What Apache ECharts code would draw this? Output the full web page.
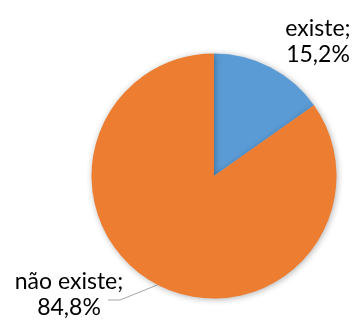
<!DOCTYPE html>
<html>
<head>
<meta charset="utf-8">
<script src="https://cdn.jsdelivr.net/npm/echarts@6/dist/echarts.min.js"></script>
<style>
  html, body { margin: 0; padding: 0; background: #ffffff; }
  #chart { width: 355px; height: 327px; }
</style>
</head>
<body>
<div id="chart"></div>
<script>
// Share of cases where the item exists vs. does not exist (percent)
const categories = ['existe', 'não existe'];
const shares = [15.2, 84.8];
const colors = ['#5B9BD5', '#ED7D31'];

// Centre of each slice's two-line label block
const labelSpots = [
  { x: 318, y: 42 },
  { x: 69, y: 295 }
];
const lineGap = 26;
// Where the leader line meets its label, relative to the label centre
const leaderEnd = { dx: 39, dy: 5, run: 12 };

const fmtPct = v => v.toFixed(1).replace('.', ',') + '%';

const pieBase = {
  type: 'pie',
  center: [214, 176],
  radius: 122.5,
  startAngle: 90,
  clockwise: true,
  emphasis: { disabled: true }
};

const textStyle = {
  show: true,
  position: 'outside',
  alignTo: 'none',
  overflow: 'none',
  fontFamily: 'Lato',
  fontSize: 23,
  lineHeight: lineGap,
  color: '#000000'
};

// Each label line is its own single-line label so both stay centred.
const placeLine = offset => p => {
  const s = labelSpots[p.dataIndex];
  const out = { x: s.x, y: s.y + offset, align: 'center', verticalAlign: 'middle' };
  if (p.labelLinePoints && p.labelLinePoints.length) {
    const anchor = p.labelLinePoints[0];
    const end = [s.x + leaderEnd.dx, s.y + leaderEnd.dy];
    out.labelLinePoints = [anchor, [end[0] + leaderEnd.run, end[1]], end];
  }
  return out;
};

const chart = echarts.init(document.getElementById('chart'), null, { renderer: 'canvas' });

chart.setOption({
  animation: false,
  series: [
    Object.assign({}, pieBase, {
      data: categories.map((name, i) => ({
        name,
        value: shares[i],
        itemStyle: { color: colors[i] },
        labelLine: { show: i === 1 }
      })),
      itemStyle: {
        borderWidth: 0,
        shadowBlur: 6,
        shadowColor: 'rgba(0,0,0,0.30)',
        shadowOffsetX: 1,
        shadowOffsetY: 1
      },
      label: Object.assign({}, textStyle, { formatter: p => p.name + ';' }),
      labelLine: {
        show: true,
        length: 10,
        length2: 12,
        lineStyle: { color: '#A6A6A6', width: 1 }
      },
      labelLayout: placeLine(-lineGap / 2)
    }),
    Object.assign({}, pieBase, {
      silent: true,
      data: categories.map((name, i) => ({ name, value: shares[i] })),
      itemStyle: { color: 'rgba(0,0,0,0)', borderWidth: 0 },
      label: Object.assign({}, textStyle, { formatter: p => fmtPct(p.value) }),
      labelLine: { show: false },
      labelLayout: placeLine(lineGap / 2)
    })
  ]
});
</script>
</body>
</html>
